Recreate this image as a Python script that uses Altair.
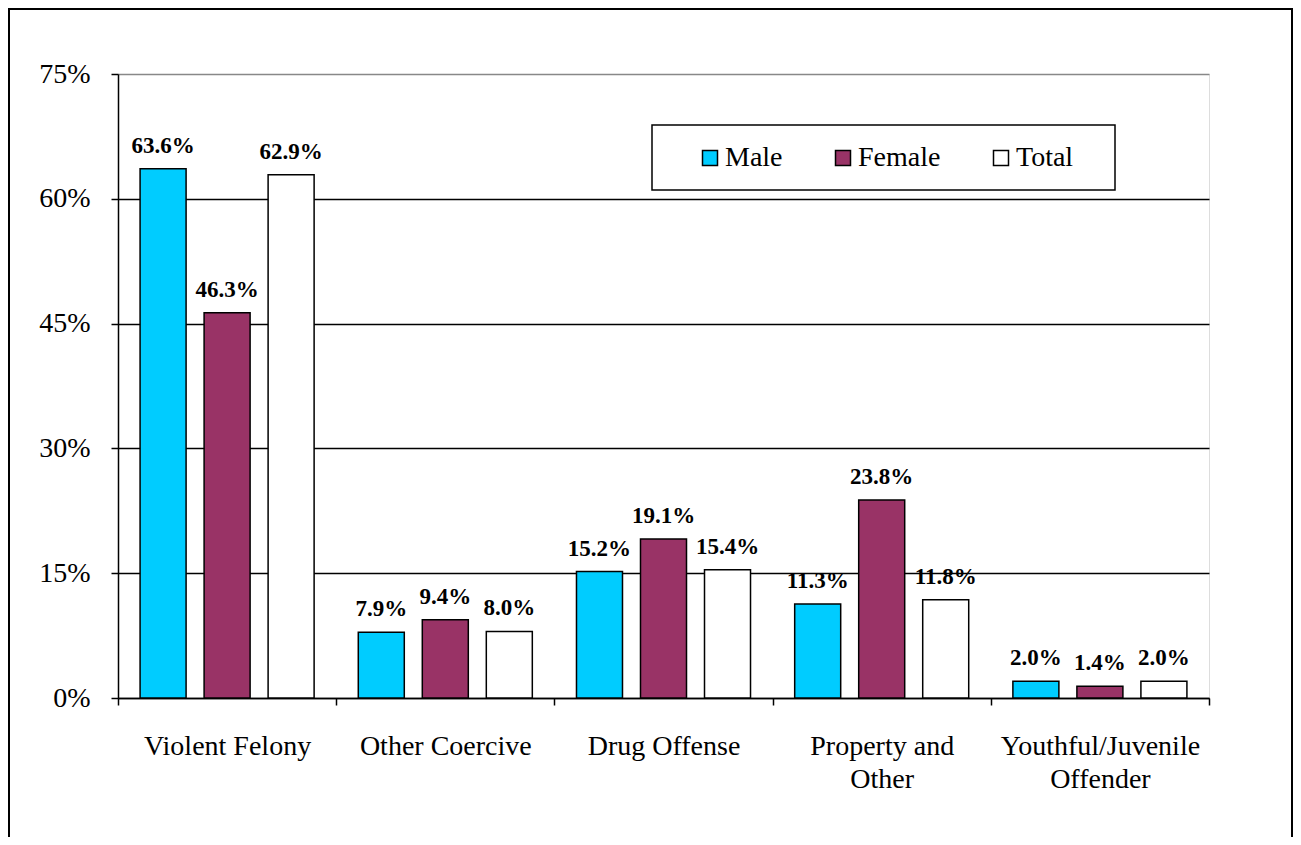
import altair as alt
import pandas as pd

categories = ["Violent Felony", "Other Coercive", "Drug Offense",
              "Property and Other", "Youthful/Juvenile Offender"]
series = ["Male", "Female", "Total"]
male = [63.6, 7.9, 15.2, 11.3, 2.0]
female = [46.3, 9.4, 19.1, 23.8, 1.4]
total = [62.9, 8.0, 15.4, 11.8, 2.0]
colors = ["#00CCFF", "#993366", "#FFFFFF"]
y_ticks = [0, 15, 30, 45, 60, 75]

rows = []
for s, vals in zip(series, [male, female, total]):
    for c, v in zip(categories, vals):
        rows.append({"category": c, "series": s, "value": v})
df = pd.DataFrame(rows)

W, H = 1091, 624
FONT = "Liberation Serif"

label_expr = ("datum.label == 'Property and Other' ? ['Property and', 'Other'] : "
              "datum.label == 'Youthful/Juvenile Offender' ? ['Youthful/Juvenile', 'Offender'] : datum.label")

x_enc = alt.X(
    "category:N", sort=categories,
    scale=alt.Scale(paddingInner=0, paddingOuter=0),
    axis=alt.Axis(title=None, labelAngle=0, tickBand="extent", labelExpr=label_expr,
                  labelFont=FONT, labelFontSize=28, labelColor="black", labelPadding=27,
                  labelLineHeight=33, labelLimit=0, domainColor="black", domainWidth=1.5,
                  tickColor="black", tickSize=7, tickWidth=1.5, grid=False),
)
xo_enc = alt.XOffset("series:N", sort=series,
                     scale=alt.Scale(paddingInner=0.28125, paddingOuter=0.345))
y_enc = alt.Y(
    "value:Q",
    scale=alt.Scale(domain=[0, 75], nice=False),
    axis=alt.Axis(title=None, values=y_ticks, labelExpr="datum.value + '%'",
                  labelFont=FONT, labelFontSize=28, labelColor="black", labelPadding=21,
                  domainColor="black", domainWidth=1.5, tickColor="black", tickSize=7,
                  tickWidth=1.5, grid=True,
                  gridColor={"condition": {"test": "datum.value === 75", "value": "#888888"},
                             "value": "black"},
                  gridWidth=1.5),
)

base = alt.Chart(df)

bars = base.mark_bar(stroke="black", strokeWidth=1.5).encode(
    x=x_enc, xOffset=xo_enc, y=y_enc,
    fill=alt.Fill("series:N", sort=series,
                  scale=alt.Scale(domain=series, range=colors),
                  legend=alt.Legend(orient="none", legendX=578, legendY=70,
                                    direction="horizontal", title=None,
                                    symbolType="square", symbolSize=225,
                                    symbolStrokeColor="black", symbolStrokeWidth=1.5,
                                    symbolOpacity=1,
                                    labelFont=FONT, labelFontSize=28, labelColor="black",
                                    labelOffset=1, columnPadding=46, padding=0)),
)

labels = base.transform_calculate(
    label="format(datum.value, '.1f') + '%'"
).mark_text(font=FONT, fontWeight="bold", fontSize=23, baseline="alphabetic",
            dy=-16, color="black").encode(
    x=x_enc, xOffset=xo_enc, y=y_enc, text="label:N",
)

one = pd.DataFrame({"k": [0]})
frame = alt.Chart(one).mark_rect(fillOpacity=0, stroke="black", strokeWidth=2).encode(
    x=alt.value(-109), x2=alt.value(1174), y=alt.value(-65), y2=alt.value(800))
legend_box = alt.Chart(one).mark_rect(fillOpacity=0, stroke="black", strokeWidth=1.5).encode(
    x=alt.value(534), x2=alt.value(997), y=alt.value(51), y2=alt.value(116))

chart = alt.layer(frame, legend_box, bars, labels).properties(
    width=W, height=H,
    autosize=alt.AutoSizeParams(type="none"),
    padding={"left": 110, "top": 66, "right": 84, "bottom": 139},
).configure_view(stroke="#888888", strokeWidth=1.5).configure(
    background="white", font=FONT)

chart.save("out.html", embed_options={"renderer": "svg", "actions": False})
